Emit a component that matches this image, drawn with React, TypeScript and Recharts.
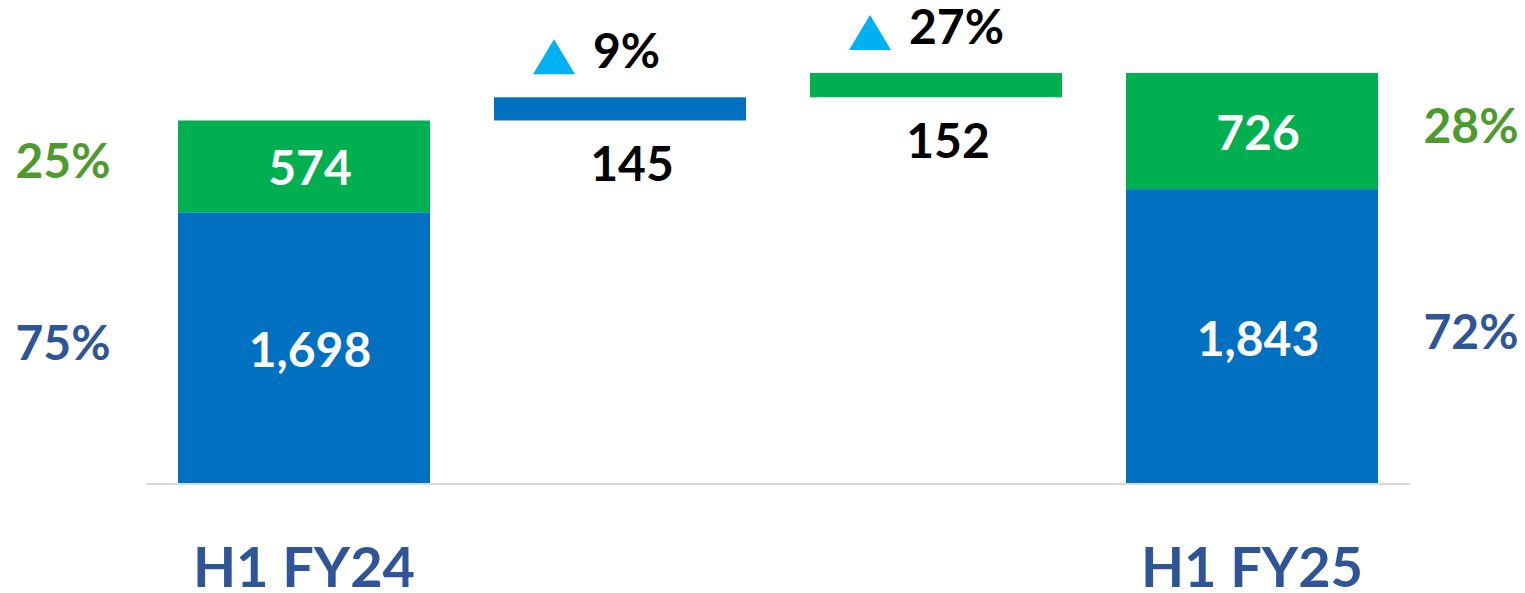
import React from 'react';
import { BarChart, Bar, XAxis, YAxis } from 'recharts';

const categories = ['H1 FY24', 'Blue change', 'Green change', 'H1 FY25'];
const tickLabels = ['H1 FY24', '', '', 'H1 FY25'];
const blueValues = [1698, 145, 0, 1843];
const greenValues = [574, 0, 152, 726];
const isTotal = [true, false, false, true];
const blueShare = ['75%', '', '', '72%'];
const greenShare = ['25%', '', '', '28%'];
const growthLabels = ['', '9%', '27%', ''];

const BLUE = '#0070C0';
const GREEN = '#00B050';
const CYAN = '#00B0F0';
const DARK_BLUE = '#2F5597';
const SHARE_GREEN = '#4E9A2F';
const FONT = 'Lato, "Open Sans", sans-serif';

// waterfall bases: deltas float on top of the running total
const bases: number[] = [];
{
  let running = 0;
  categories.forEach((_, i) => {
    if (isTotal[i]) {
      bases.push(0);
      running = blueValues[i] + greenValues[i];
    } else {
      bases.push(running);
      running += blueValues[i] + greenValues[i];
    }
  });
}

const data = categories.map((name, i) => ({
  name,
  base: bases[i],
  blue: blueValues[i],
  green: greenValues[i],
}));

const fmt = (v: number) => v.toLocaleString('en-US');

function makeShape(color: string, values: number[], shares: string[], shareColor: string) {
  return (props: any) => {
    const { x, y, width, height, index } = props;
    const v = values[index];
    if (!v) return <g />;
    const cx = x + width / 2;
    if (isTotal[index]) {
      const share = shares[index];
      const shareX = index === 0 ? x - 115 : x + width + 93;
      return (
        <g>
          <rect x={x} y={y} width={width} height={height} fill={color} />
          <text x={cx + 6} y={y + height / 2 + 19} textAnchor="middle" fill="#FFFFFF"
            fontFamily={FONT} fontWeight={700} fontSize={48}>{fmt(v)}</text>
          {share && (
            <text x={shareX} y={y + height / 2 + 12} textAnchor="middle" fill={shareColor}
              fontFamily={FONT} fontWeight={700} fontSize={48}>{share}</text>
          )}
        </g>
      );
    }
    const g = growthLabels[index];
    const triCx = cx - 66;
    const triBase = y - 23;
    return (
      <g>
        <rect x={x} y={y} width={width} height={height} fill={color} />
        <text x={cx + 12} y={y + height + 61} textAnchor="middle" fill="#000000"
          fontFamily={FONT} fontWeight={700} fontSize={48}>{fmt(v)}</text>
        <path d={`M${triCx - 21},${triBase} L${triCx + 21},${triBase} L${triCx},${triBase - 35} Z`} fill={CYAN} />
        <text x={cx - 27} y={y - 29} textAnchor="start" fill="#000000"
          fontFamily={FONT} fontWeight={700} fontSize={48}>{g}</text>
      </g>
    );
  };
}

const BlueShape = makeShape(BLUE, blueValues, blueShare, DARK_BLUE);
const GreenShape = makeShape(GREEN, greenValues, greenShare, SHARE_GREEN);

const CategoryTick = (props: any) => {
  const { x, y, index } = props;
  const label = tickLabels[index];
  if (!label) return <g />;
  return (
    <text x={x} y={y} dy={103} textAnchor="middle" fill={DARK_BLUE}
      fontFamily={FONT} fontWeight={700} fontSize={56}>{label}</text>
  );
};

export default function App() {
  return (
    <div style={{ position: 'absolute', left: 0, top: 0, width: 1525, height: 593, background: '#FFFFFF' }}>
      <BarChart
        width={1525}
        height={593}
        data={data}
        margin={{ top: 4, right: 115, left: 146, bottom: 0 }}
        barSize={252}
      >
        <XAxis
          dataKey="name"
          height={109}
          tickLine={false}
          tickSize={0}
          tickMargin={0}
          axisLine={{ stroke: '#D9D9D9', strokeWidth: 2 }}
          tick={<CategoryTick />}
          interval={0}
        />
        <YAxis hide domain={[0, 3000]} />
        <Bar dataKey="base" stackId="w" fill="transparent" isAnimationActive={false} />
        <Bar dataKey="blue" stackId="w" fill={BLUE} shape={BlueShape} isAnimationActive={false} />
        <Bar dataKey="green" stackId="w" fill={GREEN} shape={GreenShape} isAnimationActive={false} />
      </BarChart>
    </div>
  );
}
